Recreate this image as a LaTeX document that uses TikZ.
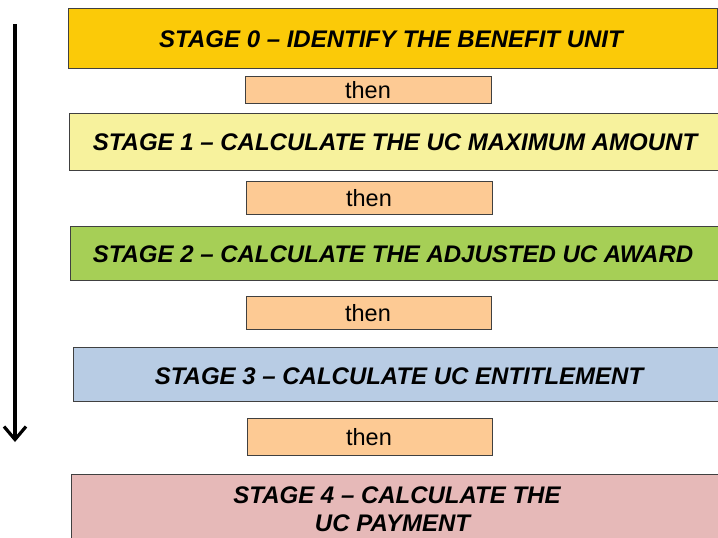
\documentclass[tikz,border=0pt]{standalone}
\usepackage{fontspec}
\setmainfont{Liberation Sans}
\usetikzlibrary{arrows.meta}
\definecolor{cS0}{HTML}{FBCA08}
\definecolor{cS1}{HTML}{F7F29D}
\definecolor{cS2}{HTML}{A6CF56}
\definecolor{cS3}{HTML}{B8CCE4}
\definecolor{cS4}{HTML}{E6B9B8}
\definecolor{cThen}{HTML}{FDCA94}
\definecolor{cEdge}{HTML}{404040}
\begin{document}
\begin{tikzpicture}[x=1pt,y=-1pt,
  stagebox/.style={draw=cEdge,line width=1pt},
  thenbox/.style={draw=cEdge,line width=0.8pt,fill=cThen},
  stagetext/.style={font=\fontsize{24}{28}\selectfont\bfseries\itshape,align=center,inner sep=0pt},
  thentext/.style={font=\fontsize{23.5}{25}\selectfont,inner sep=0pt}]
\useasboundingbox (0,0) rectangle (718,538);
% stage boxes
\draw[stagebox,fill=cS0] (68,8) rectangle (717,68);
\draw[stagebox,fill=cS1] (69,113) rectangle (722,170);
\draw[stagebox,fill=cS2] (70,226) rectangle (718,280);
\draw[stagebox,fill=cS3] (73,347) rectangle (724,401);
\draw[stagebox,fill=cS4] (71,474) rectangle (724,545);
\node[stagetext] (s0) at (391,39) {STAGE 0 – IDENTIFY THE BENEFIT UNIT};
\node[stagetext] (s1) at (395,142) {STAGE 1 – CALCULATE THE UC MAXIMUM AMOUNT};
\node[stagetext] (s2) at (393,254) {STAGE 2 – CALCULATE THE ADJUSTED UC AWARD};
\node[stagetext] (s3) at (399,376) {STAGE 3 – CALCULATE UC ENTITLEMENT};
\node[stagetext] (s4) at (397,509) {STAGE 4 – CALCULATE THE\\UC PAYMENT\hspace*{9pt}};
% then boxes
\draw[thenbox] (245,76) rectangle (491,103);
\draw[thenbox] (246,181) rectangle (492,214);
\draw[thenbox] (246,296) rectangle (491,329);
\draw[thenbox] (247,418) rectangle (492,455);
\node[thentext] (t1) at (368,90) {then};
\node[thentext] (t2) at (369,198) {then};
\node[thentext] (t3) at (368,313) {then};
\node[thentext] (t4) at (369,437) {then};
% arrow
\coordinate (atop) at (15,24);
\coordinate (abot) at (15,442);
\draw[line width=3.2pt,-{Straight Barb[length=13pt,width=22pt,line width=3.2pt]}] (atop) -- (abot);
\end{tikzpicture}
\end{document}
